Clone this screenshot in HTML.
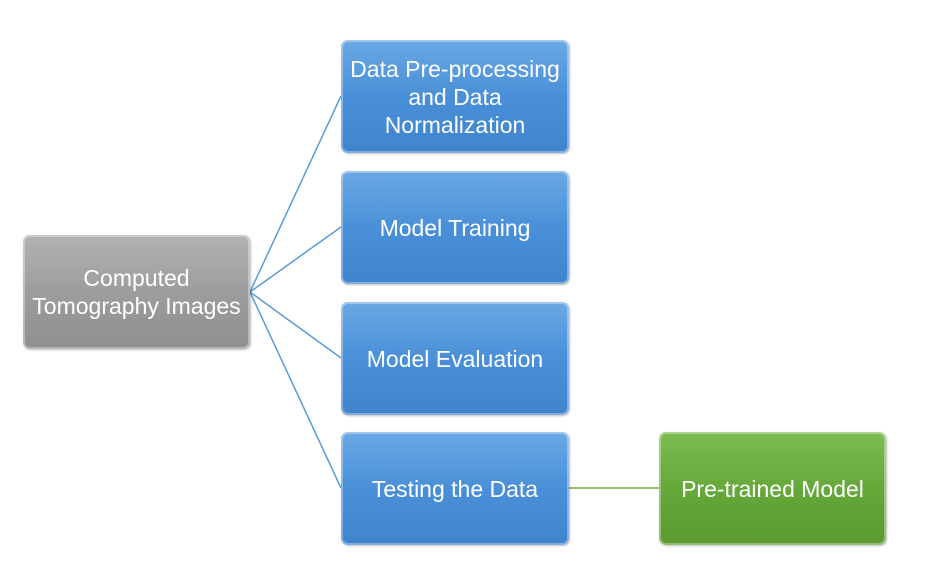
<!DOCTYPE html>
<html><head><style>
body{margin:0;width:941px;height:578px;background:#fff;position:relative;overflow:hidden;font-family:"Liberation Sans",sans-serif}
.b{position:absolute;width:228px;height:113px;border-radius:7px;display:flex;align-items:center;justify-content:center;text-align:center;color:#fff;font-size:23px;line-height:28px;box-sizing:border-box;box-shadow:inset 0 0 0 2px rgba(255,255,255,0.35),1px 1px 2px rgba(0,0,0,0.25);white-space:nowrap}
.bl{left:341px;background:linear-gradient(#6aa8e4,#4a90d8 50%,#3f84cc)}
.g{left:23px;top:235px;height:114px;width:227px;background:linear-gradient(#b2b2b2,#9d9d9d 50%,#8f8f8f)}
.gr{left:659px;top:432px;width:227px;background:linear-gradient(#7cbc52,#66a83a 50%,#5a9a30)}
svg{position:absolute;left:0;top:0}
</style></head><body>
<svg width="941" height="578"><g stroke="#5b9bd5" stroke-width="1.5" fill="none">
<line x1="250" y1="292" x2="341" y2="96"/><line x1="250" y1="292" x2="341" y2="227"/>
<line x1="250" y1="292" x2="341" y2="358"/><line x1="250" y1="292" x2="341" y2="488"/></g>
<line x1="569" y1="488" x2="659" y2="488" stroke="#70ad47" stroke-width="1.5"/></svg>
<div class="b g">Computed<br>Tomography Images</div>
<div class="b bl" style="top:40px">Data Pre-processing<br>and Data<br>Normalization</div>
<div class="b bl" style="top:171px">Model Training</div>
<div class="b bl" style="top:302px">Model Evaluation</div>
<div class="b bl" style="top:432px">Testing the Data</div>
<div class="b gr">Pre-trained Model</div>
</body></html>
